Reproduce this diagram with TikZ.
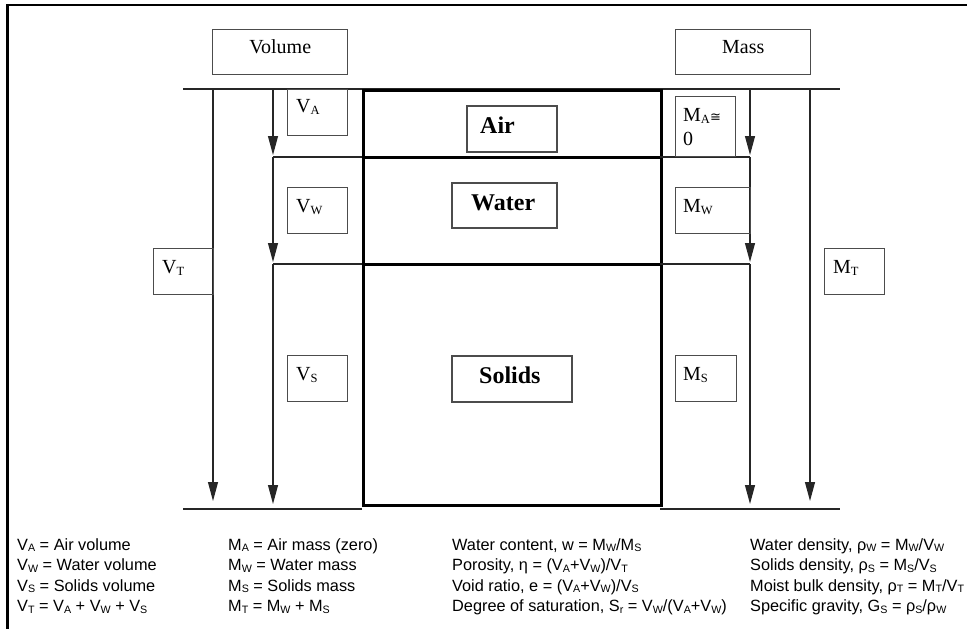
\documentclass[tikz,border=0pt]{standalone}
\usepackage{fontspec}
\setmainfont{Liberation Sans}
\newfontfamily\tms{Liberation Serif}
\newfontfamily\djv{DejaVu Sans}
\usetikzlibrary{arrows.meta}
\newcommand\lsub[1]{\raisebox{-1.5pt}{\fontsize{10.7}{10.7}\selectfont #1}}
\newcommand\tsub[1]{\raisebox{-2pt}{\fontsize{12.5}{12.5}\selectfont #1}}
\begin{document}
\begin{tikzpicture}[x=1pt,y=-1pt,
  frame/.style={line width=2.5pt},
  thinln/.style={line width=1.1pt, draw=black!85},
  thickln/.style={line width=3pt},
  lbox/.style={draw=black!70, line width=1.4pt, anchor=north west, inner sep=0pt},
  bbox/.style={draw=black!70, line width=1.6pt, anchor=north west, inner sep=0pt},
  ltxt/.style={anchor=base west, inner sep=0pt, font=\tms\fontsize{20}{24}\selectfont},
  htxt/.style={anchor=base, inner sep=0pt, font=\tms\fontsize{20}{24}\selectfont},
  btxt/.style={anchor=base west, inner sep=0pt, font=\tms\bfseries\fontsize{24}{28}\selectfont},
  leg/.style={anchor=base west, inner sep=0pt, font=\fontsize{16.3}{20}\selectfont},
  arr/.style={thinln, -{Triangle[length=19pt,width=10pt]}}]
\useasboundingbox (0,0) rectangle (967,629);
% frame
\draw[frame] (7.5,629) -- (7.5,5) -- (967,5);
% header boxes
\node[lbox, minimum width=135pt, minimum height=45pt] (volbox) at (212,29) {};
\node[htxt] (voltxt) at ([shift={(0,24)}]volbox.north) {Volume};
\node[lbox, minimum width=135pt, minimum height=45pt] (massbox) at (675,29) {};
\node[htxt] (masstxt) at ([shift={(0,24)}]massbox.north) {Mass};
% reference lines
\coordinate (tl) at (183,89); \coordinate (tr) at (840,89);
\draw[thinln] (tl) -- (tr);
\coordinate (bl1) at (183,509); \coordinate (bl2) at (362,509);
\coordinate (br1) at (660,509); \coordinate (br2) at (840,509);
\draw[thinln] (bl1) -- (bl2);
\draw[thinln] (br1) -- (br2);
% main box
\node[draw, thickln, anchor=north west, inner sep=0pt, minimum width=298pt, minimum height=415pt] (main) at (362,89) {};
\coordinate (ha1) at (362,157); \coordinate (ha2) at (660,157);
\coordinate (hw1) at (362,264); \coordinate (hw2) at (660,264);
\draw[thickln] (ha1) -- (ha2);
\draw[thickln] (hw1) -- (hw2);
% side lines
\coordinate (la) at (273,157); \coordinate (lw) at (273,264);
\draw[thinln] (la) -- (ha1);
\draw[thinln] (lw) -- (hw1);
\coordinate (ra) at (750,157); \coordinate (rw) at (750,264);
\draw[thinln] (ha2) -- (ra);
\draw[thinln] (hw2) -- (rw);
% arrows volume
\coordinate (vt0) at (213,89); \coordinate (vt1) at (213,501);
\draw[arr] (vt0) -- (vt1);
\coordinate (va0) at (273,89); \coordinate (va1) at (273,155);
\draw[arr] (va0) -- (va1);
\coordinate (vw1) at (273,262);
\draw[arr] (la) -- (vw1);
\coordinate (vs1) at (273,504);
\draw[arr] (lw) -- (vs1);
% arrows mass
\coordinate (mt0) at (810,89); \coordinate (mt1) at (810,501);
\draw[arr] (mt0) -- (mt1);
\coordinate (ma0) at (750,89); \coordinate (ma1) at (750,155);
\draw[arr] (ma0) -- (ma1);
\coordinate (mw1) at (750,262);
\draw[arr] (ra) -- (mw1);
\coordinate (ms1) at (750,504);
\draw[arr] (rw) -- (ms1);
% phase boxes
\node[bbox, minimum width=90pt, minimum height=46pt] (airbox) at (466,105) {};
\node[btxt] (airtxt) at (480,133) {Air};
\node[bbox, minimum width=105pt, minimum height=45pt] (watbox) at (451,182) {};
\node[btxt] (wattxt) at (471,210) {Water};
\node[bbox, minimum width=120pt, minimum height=46pt] (solbox) at (451,355) {};
\node[btxt] (soltxt) at (479,383) {Solids};
% volume labels
\node[lbox, minimum width=60pt, minimum height=46pt] (vabox) at (287,89) {};
\node[ltxt] (vatxt) at ([shift={(9,23)}]vabox.north west) {V\tsub{A}};
\node[lbox, minimum width=60pt, minimum height=46pt] (vwbox) at (287,187) {};
\node[ltxt] (vwtxt) at ([shift={(9,25)}]vwbox.north west) {V\tsub{W}};
\node[lbox, minimum width=60pt, minimum height=46pt] (vsbox) at (287,355) {};
\node[ltxt] (vstxt) at ([shift={(9,25)}]vsbox.north west) {V\tsub{S}};
\node[lbox, minimum width=60pt, minimum height=46pt] (vtbox) at (153,248) {};
\node[ltxt] (vttxt) at ([shift={(9,25)}]vtbox.north west) {V\tsub{T}};
% mass labels
\node[lbox, minimum width=60pt, minimum height=60pt] (mabox) at (675,96) {};
\node[ltxt] (matxt) at ([shift={(8,25)}]mabox.north west) {M\tsub{A}{\djv\fontsize{13}{13}\selectfont ≅}};
\node[ltxt] (matxt2) at ([shift={(8,49)}]mabox.north west) {0};
\node[lbox, minimum width=75pt, minimum height=46pt] (mwbox) at (675,187) {};
\node[ltxt] (mwtxt) at ([shift={(8,25)}]mwbox.north west) {M\tsub{W}};
\node[lbox, minimum width=61pt, minimum height=46pt] (msbox) at (675,355) {};
\node[ltxt] (mstxt) at ([shift={(8,25)}]msbox.north west) {M\tsub{S}};
\node[lbox, minimum width=60pt, minimum height=46pt] (mtbox) at (824,248) {};
\node[ltxt] (mttxt) at ([shift={(9,25)}]mtbox.north west) {M\tsub{T}};
% legend column 1
\node[leg] (l11) at (17,550) {V\lsub{A} = Air volume};
\node[leg] (l12) at (17,570.5) {V\lsub{W} = Water volume};
\node[leg] (l13) at (17,591) {V\lsub{S} = Solids volume};
\node[leg] (l14) at (17,611.5) {V\lsub{T} = V\lsub{A} + V\lsub{W} + V\lsub{S}};
% legend column 2
\node[leg] (l21) at (228,550) {M\lsub{A} = Air mass (zero)};
\node[leg] (l22) at (228,570.5) {M\lsub{W} = Water mass};
\node[leg] (l23) at (228,591) {M\lsub{S} = Solids mass};
\node[leg] (l24) at (228,611.5) {M\lsub{T} = M\lsub{W} + M\lsub{S}};
% legend column 3
\node[leg] (l31) at (452,550) {Water content, w = M\lsub{W}/M\lsub{S}};
\node[leg] (l32) at (452,570.5) {Porosity, η = (V\lsub{A}+V\lsub{W})/V\lsub{T}};
\node[leg] (l33) at (452,591) {Void ratio, e = (V\lsub{A}+V\lsub{W})/V\lsub{S}};
\node[leg] (l34) at (452,611.5) {Degree of saturation, S\lsub{r} = V\lsub{W}/(V\lsub{A}+V\lsub{W})};
% legend column 4
\node[leg] (l41) at (750,550) {Water density, ρ\lsub{W} = M\lsub{W}/V\lsub{W}};
\node[leg] (l42) at (750,570.5) {Solids density, ρ\lsub{S} = M\lsub{S}/V\lsub{S}};
\node[leg] (l43) at (750,591) {Moist bulk density, ρ\lsub{T} = M\lsub{T}/V\lsub{T}};
\node[leg] (l44) at (750,611.5) {Specific gravity, G\lsub{S} = ρ\lsub{S}/ρ\lsub{W}};
\end{tikzpicture}
\end{document}
